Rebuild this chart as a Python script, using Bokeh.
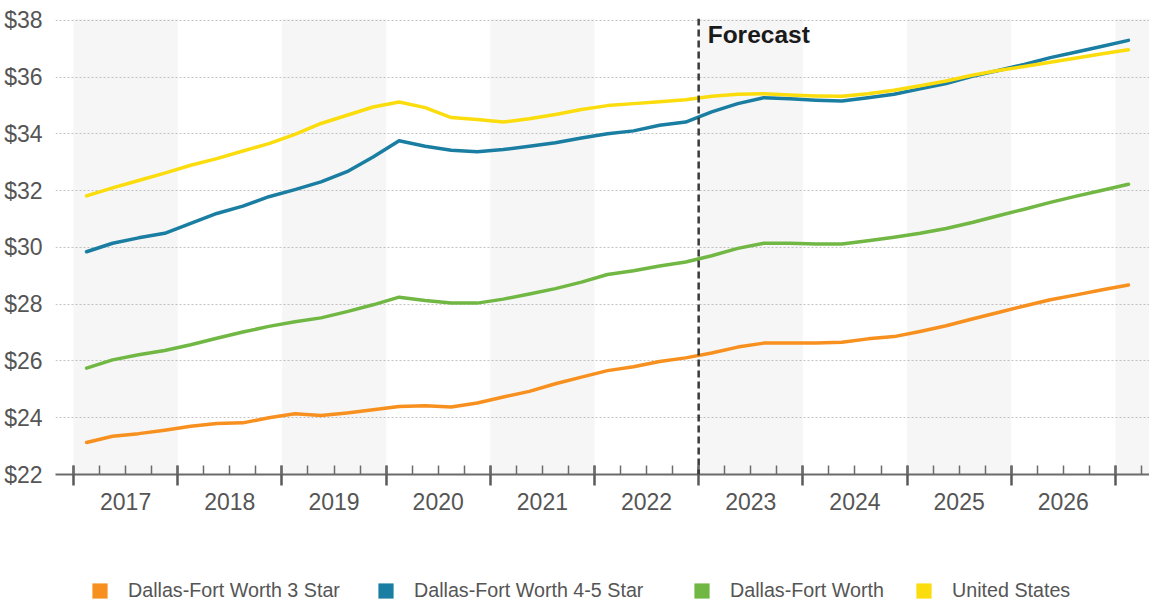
from bokeh.plotting import figure
from bokeh.layouts import column
from bokeh.models import (FixedTicker, LinearAxis, Range1d, BoxAnnotation, Span, Label,
                          Legend, LegendItem, NumeralTickFormatter)
from bokeh.embed import file_html
from bokeh.resources import INLINE

# ---------------- data ----------------
years = list(range(2017, 2027))                     # labelled years on the x axis
band_years = [2017, 2019, 2021, 2023, 2025, 2027]   # shaded year columns
forecast_start = 2023
y_ticks = [22, 24, 26, 28, 30, 32, 34, 36, 38]

# quarterly periods 2017 Q1 .. 2027 Q1
quarters = [(y, q) for y in range(2017, 2028) for q in range(1, 5)][:41]

dfw_3star = [23.13, 23.35, 23.44, 23.56, 23.70, 23.80, 23.82, 24.00, 24.14, 24.08,
             24.17, 24.28, 24.40, 24.42, 24.38, 24.52, 24.73, 24.93, 25.20, 25.43,
             25.66, 25.80, 25.98, 26.11, 26.28, 26.49, 26.63, 26.63, 26.63, 26.66,
             26.78, 26.86, 27.04, 27.24, 27.48, 27.71, 27.94, 28.16, 28.33, 28.51,
             28.68]
dfw_45star = [29.85, 30.15, 30.34, 30.50, 30.85, 31.20, 31.46, 31.79, 32.04, 32.31,
              32.67, 33.19, 33.76, 33.57, 33.43, 33.37, 33.45, 33.57, 33.69, 33.86,
              34.01, 34.11, 34.31, 34.42, 34.78, 35.07, 35.28, 35.24, 35.19, 35.16,
              35.28, 35.40, 35.59, 35.78, 36.03, 36.24, 36.45, 36.69, 36.89, 37.09,
              37.30]
dfw_all = [25.75, 26.04, 26.22, 26.37, 26.57, 26.80, 27.02, 27.22, 27.38, 27.52,
           27.74, 27.98, 28.25, 28.13, 28.04, 28.04, 28.18, 28.36, 28.55, 28.78,
           29.05, 29.18, 29.35, 29.49, 29.71, 29.97, 30.15, 30.15, 30.12, 30.12,
           30.24, 30.36, 30.50, 30.67, 30.88, 31.12, 31.35, 31.59, 31.81, 32.02,
           32.23]
us = [31.82, 32.10, 32.36, 32.62, 32.90, 33.13, 33.40, 33.66, 33.99, 34.37,
      34.66, 34.95, 35.13, 34.93, 34.58, 34.51, 34.42, 34.54, 34.69, 34.86,
      35.00, 35.07, 35.14, 35.21, 35.33, 35.40, 35.42, 35.37, 35.34, 35.33,
      35.42, 35.54, 35.70, 35.87, 36.07, 36.24, 36.38, 36.53, 36.68, 36.83,
      36.97]

series_names = ["Dallas-Fort Worth 3 Star", "Dallas-Fort Worth 4-5 Star",
                "Dallas-Fort Worth", "United States"]
series_colors = ["#F7901E", "#1A7EA2", "#71B744", "#FBDC0C"]
series_values = [dfw_3star, dfw_45star, dfw_all, us]

# position of each quarter on a fractional-year axis (middle of the quarter)
x = [y + (q - 1) / 4 + 0.125 for y, q in quarters]
year_bounds = list(range(2017, 2028))
quarter_bounds = [b + k / 4 for b in range(2016, 2028) for k in range(4)]

FONT = "Liberation Sans"
TXT = "#555555"
NAN = float("nan")

p = figure(width=1149, height=535, output_backend="svg", toolbar_location=None,
           x_range=Range1d(2016.827, 2027.327), y_range=Range1d(22, 38.07),
           min_border_left=55, min_border_right=0, min_border_top=18,
           min_border_bottom=61)
p.outline_line_color = None
p.background_fill_color = "white"
p.border_fill_color = "white"

# shaded year columns
for b in band_years:
    p.add_layout(BoxAnnotation(left=b, right=b + 1, fill_color="#808080",
                               fill_alpha=0.075, line_color=None, level="underlay"))

# grid
p.xgrid.grid_line_color = None
p.ygrid.ticker = FixedTicker(ticks=y_ticks)
p.ygrid.grid_line_color = "#c4c4c4"
p.ygrid.grid_line_dash = "2 2"
p.ygrid.grid_line_width = 1.2

# y axis
ya = p.yaxis[0]
ya.ticker = FixedTicker(ticks=y_ticks)
ya.formatter = NumeralTickFormatter(format="$0")
ya.axis_line_color = None
ya.major_tick_line_color = None
ya.minor_tick_line_color = None
ya.major_label_standoff = 7
ya.major_label_text_font = FONT
ya.major_label_text_font_size = "23px"
ya.major_label_text_color = TXT

# x axis with tick marks (year boundaries + quarter minor ticks)
xa = p.xaxis[0]
xa.ticker = FixedTicker(ticks=year_bounds, minor_ticks=quarter_bounds)
xa.major_label_overrides = {b: "" for b in year_bounds}
xa.major_label_text_font_size = "1px"
xa.major_label_standoff = 0
xa.axis_line_color = "#6b6b6b"
xa.axis_line_width = 2
xa.major_tick_line_color = "#5a5a5a"
xa.major_tick_line_width = 2.5
xa.major_tick_in = 9
xa.major_tick_out = 11
xa.minor_tick_line_color = "#6b6b6b"
xa.minor_tick_line_width = 1.5
xa.minor_tick_in = 9
xa.minor_tick_out = 0

# x axis with year labels centred in each year
xb = LinearAxis(ticker=FixedTicker(ticks=[y + 0.5 for y in years]),
                major_label_overrides={y + 0.5: str(y) for y in years})
xb.axis_line_color = None
xb.major_tick_line_color = None
xb.minor_tick_line_color = None
xb.major_tick_in = 0
xb.major_tick_out = 0
xb.major_label_standoff = 7
xb.major_label_text_font = FONT
xb.major_label_text_font_size = "23px"
xb.major_label_text_color = TXT
p.add_layout(xb, "below")

# forecast marker
p.add_layout(Span(location=forecast_start, dimension="height", line_color="#3a3a3a",
                  line_width=2.5, line_dash="7 4"))
p.add_layout(Label(x=forecast_start, y=38, x_offset=9, y_offset=-1, text="Forecast",
                   text_font=FONT, text_font_style="bold", text_font_size="24.5px",
                   text_color="#1a1a1a", text_baseline="top"))

# series
for vals, col in zip(series_values, series_colors):
    p.line(x, vals, line_color=col, line_width=3.5, line_join="round", line_cap="round")

# legend strip below the chart (square swatches)
lp = figure(width=1149, height=70, output_backend="svg", toolbar_location=None,
            x_range=Range1d(0, 1), y_range=Range1d(0, 1),
            x_axis_location=None, y_axis_location=None,
            min_border_left=55, min_border_right=0, min_border_top=0, min_border_bottom=0)
lp.outline_line_color = None
lp.xgrid.grid_line_color = None
lp.ygrid.grid_line_color = None

legend_offsets = [35, 321, 637, 859]
for name, col, vx in zip(series_names, series_colors, legend_offsets):
    proxy = lp.quad(left=[NAN], right=[NAN], top=[NAN], bottom=[NAN],
                    fill_color=col, line_color=None)
    lg = Legend(items=[LegendItem(label=name, renderers=[proxy])], location=(vx, 3),
                orientation="horizontal", glyph_width=19, glyph_height=19,
                label_standoff=19, padding=0, margin=0, spacing=0,
                border_line_color=None, background_fill_alpha=0,
                label_text_font=FONT, label_text_font_size="19.7px",
                label_text_color=TXT)
    lp.add_layout(lg)

open("out.html", "w").write(file_html(column(p, lp, spacing=0), INLINE))
